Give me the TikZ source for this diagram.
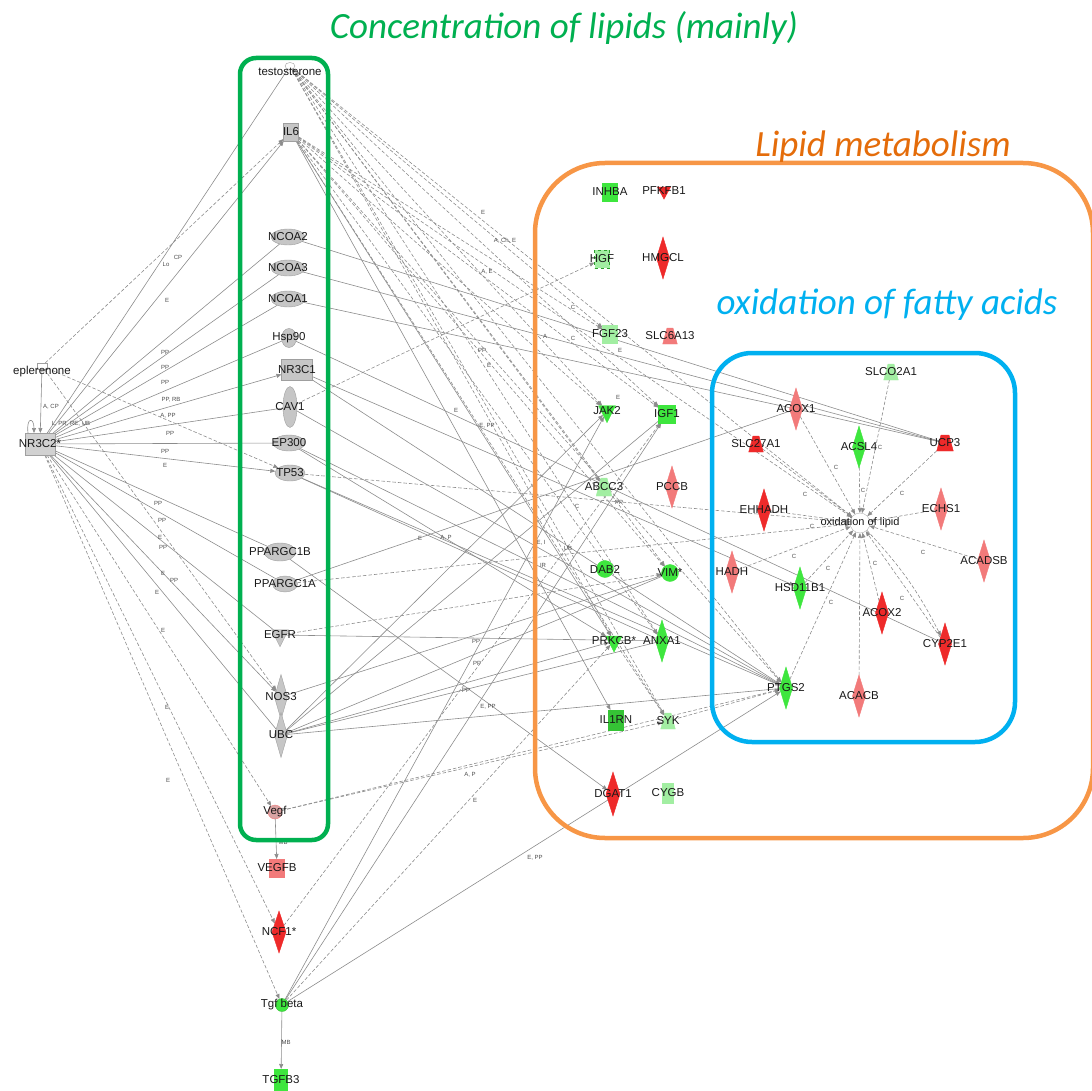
\documentclass[tikz,border=0pt]{standalone}
\usepackage{fontspec}
\setmainfont{Liberation Sans}
\newfontfamily\titlefont{Carlito}
\usetikzlibrary{arrows.meta, shapes.geometric, backgrounds}

\definecolor{ngrey}{HTML}{C6C6C6}
\definecolor{nred}{HTML}{EE2A2A}
\definecolor{npink}{HTML}{F27A7A}
\definecolor{ngreen}{HTML}{3EE63E}
\definecolor{nlgreen}{HTML}{A2EEA2}
\definecolor{egrey}{HTML}{8C8C8C}
\definecolor{boxgreen}{HTML}{00B050}
\definecolor{boxorange}{HTML}{F79646}
\definecolor{boxblue}{HTML}{00B0F0}
\definecolor{titorange}{HTML}{E46C0A}

\begin{document}
\begin{tikzpicture}[x=1pt, y=-1pt,
    >={Triangle[length=5pt, width=4pt]},
    gene/.style  = {draw=gray!75, line width=0.4pt, inner sep=0pt, outer sep=0pt},
    lab/.style   = {font=\fontsize{11.5}{12}\selectfont, inner sep=0pt, text=black!90},
    sq/.style    = {gene, rectangle, minimum width=15, minimum height=18},
    ell/.style   = {gene, ellipse, minimum width=34, minimum height=16},
    dia/.style   = {gene, diamond, minimum width=13, minimum height=42},
    tri/.style   = {gene, isosceles triangle, shape border rotate=270,
                    isosceles triangle stretches, minimum width=15, minimum height=15},
    trap/.style  = {gene, trapezium, inner xsep=3pt, inner ysep=8pt, trapezium left angle=75,
                    trapezium right angle=75, minimum width=0pt, minimum height=0pt},
    blob/.style  = {gene, circle, minimum size=15},
    link/.style  = {draw=egrey, line width=0.6pt},
    dlink/.style = {link, dash pattern=on 3.5pt off 2pt},
    elab/.style  = {font=\fontsize{6}{6}\selectfont, text=black!70, inner sep=0.5pt},
    groupbox/.style   = {line width=4.5pt, rounded corners=#1},
    grouptitle/.style = {font=\titlefont\itshape\fontsize{37}{38}\selectfont, inner sep=0pt}
]
\useasboundingbox (0,0) rectangle (1092,1091);

% left: drug and receptor
\node[gene, rectangle, minimum width=10, minimum height=6, label={[lab, yshift=-6pt]center:eplerenone}] (eplerenone) at (42,366) {};
\node[sq, fill=ngrey!80, minimum width=30, minimum height=22, label={[lab]center:NR3C2*}] (nr3c2) at (40,444) {};

% green column
\node[gene, ellipse, minimum width=10, minimum height=7, label={[lab, yshift=-6pt]center:testosterone}] (testo) at (290,66) {};
\node[sq, fill=ngrey, label={[lab]center:IL6}] (il6) at (291,132) {};
\node[ell, fill=ngrey, label={[lab]center:NCOA2}] (ncoa2) at (288,237) {};
\node[ell, fill=ngrey, label={[lab]center:NCOA3}] (ncoa3) at (288,268) {};
\node[ell, fill=ngrey, label={[lab]center:NCOA1}] (ncoa1) at (288,299) {};
\node[ell, fill=ngrey, minimum width=15, minimum height=19, label={[lab]center:Hsp90}] (hsp90) at (289,338) {};
\node[sq, fill=ngrey, minimum width=31, minimum height=21, label={[lab]center:NR3C1}] (nr3c1) at (297,370) {};
\node[ell, fill=ngrey, minimum width=14, minimum height=41, label={[lab]center:CAV1}] (cav1) at (290,407) {};
\node[ell, fill=ngrey, minimum width=32, label={[lab]center:EP300}] (ep300) at (289,443) {};
\node[ell, fill=ngrey, minimum width=30, label={[lab]center:TP53}] (tp53) at (290,473) {};
\node[ell, fill=ngrey, minimum width=32, minimum height=18, label={[lab]center:PPARGC1B}] (ppargc1b) at (280,552) {};
\node[ell, fill=ngrey, minimum width=25, label={[lab]center:PPARGC1A}] (ppargc1a) at (285,584) {};
\node[tri, fill=ngrey, minimum width=17, minimum height=17, label={[lab]center:EGFR}] (egfr) at (280,635) {};
\node[dia, fill=ngrey, minimum height=45, label={[lab]center:NOS3}] (nos3) at (281,697) {};
\node[dia, fill=ngrey, minimum height=45, label={[lab]center:UBC}] (ubc) at (281,735) {};
\node[blob, fill=npink!45!ngrey, draw=npink, minimum size=14, label={[lab]center:Vegf}] (vegf) at (275,812) {};

% below the green column
\node[sq, fill=npink, draw=npink, label={[lab]center:VEGFB}] (vegfb) at (277,868) {};
\node[dia, fill=nred, draw=nred, minimum width=14, label={[lab]center:NCF1*}] (ncf1) at (279,932) {};
\node[blob, fill=ngreen, draw=ngreen!80!black, minimum size=13, label={[lab]center:Tgf beta}] (tgfbeta) at (282,1005) {};
\node[sq, fill=ngreen, draw=ngreen, minimum width=13, minimum height=22, label={[lab]center:TGFB3}] (tgfb3) at (281,1080) {};

% lipid metabolism
\node[sq, fill=ngreen, draw=ngreen, label={[lab]center:INHBA}] (inhba) at (610,192) {};
\node[tri, fill=nred, draw=nred, minimum width=13, minimum height=12, label={[lab]center:PFKFB1}] (pfkfb1) at (664,191) {};
\node[sq, fill=nlgreen, draw=ngreen!70!black, dashed, label={[lab]center:HGF}] (hgf) at (602,259) {};
\node[dia, fill=nred, draw=nred, label={[lab]center:HMGCL}] (hmgcl) at (663,258) {};
\node[sq, fill=nlgreen, draw=nlgreen, label={[lab]center:FGF23}] (fgf23) at (610,334) {};
\node[trap, fill=npink, draw=npink, label={[lab]center:SLC6A13}] (slc6a13) at (670,336) {};
\node[tri, fill=ngreen, draw=ngreen, minimum width=17, minimum height=17, label={[lab]center:JAK2}] (jak2) at (607,411) {};
\node[sq, fill=ngreen, draw=ngreen, minimum width=17, label={[lab]center:IGF1}] (igf1) at (667,414) {};
\node[trap, fill=nlgreen, draw=nlgreen, inner ysep=9pt, label={[lab]center:ABCC3}] (abcc3) at (604,487) {};
\node[dia, fill=npink, draw=npink, label={[lab]center:PCCB}] (pccb) at (672,487) {};
\node[blob, fill=ngreen, draw=ngreen, minimum size=17, label={[lab]center:DAB2}] (dab2) at (605,569) {};
\node[blob, fill=ngreen, draw=ngreen, minimum size=17, label={[lab]center:VIM*}] (vim) at (670,573) {};
\node[tri, fill=ngreen, draw=ngreen, minimum width=16, minimum height=16, label={[lab]center:PRKCB*}] (prkcb) at (614,641) {};
\node[dia, fill=ngreen, draw=ngreen, label={[lab]center:ANXA1}] (anxa1) at (662,641) {};
\node[sq, fill=ngreen!85!black, draw=ngreen!85!black, minimum height=20, label={[lab]center:IL1RN}] (il1rn) at (616,720) {};
\node[trap, fill=nlgreen, draw=nlgreen, label={[lab]center:SYK}] (syk) at (668,721) {};
\node[dia, fill=nred, draw=nred, minimum width=14, minimum height=44, label={[lab]center:DGAT1}] (dgat1) at (613,794) {};
\node[sq, fill=nlgreen, draw=nlgreen, minimum width=11, minimum height=20, label={[lab]center:CYGB}] (cygb) at (668,793) {};

% fatty acid oxidation
\node[trap, fill=nlgreen, draw=nlgreen, label={[lab]center:SLCO2A1}] (slco2a1) at (891,372) {};
\node[dia, fill=npink, draw=npink, label={[lab]center:ACOX1}] (acox1) at (796,409) {};
\node[trap, fill=nred, draw=nred, label={[lab]center:SLC27A1}] (slc27a1) at (756,444) {};
\node[dia, fill=ngreen, draw=ngreen, label={[lab]center:ACSL4}] (acsl4) at (859,447) {};
\node[trap, fill=nred, draw=nred, inner xsep=4pt, label={[lab]center:UCP3}] (ucp3) at (945,443) {};
\node[dia, fill=nred, draw=nred, label={[lab]center:EHHADH}] (ehhadh) at (764,510) {};
\node[dia, fill=npink, draw=npink, label={[lab]center:ECHS1}] (echs1) at (941,509) {};
\node[blob, fill=white, draw=gray!60, minimum size=20, label={[lab, font=\fontsize{11}{12}\selectfont]center:oxidation of lipid}] (oxi) at (860,523) {};
\node[dia, fill=npink, draw=npink, label={[lab]center:HADH}] (hadh) at (732,572) {};
\node[dia, fill=ngreen, draw=ngreen, label={[lab]center:HSD11B1}] (hsd11b1) at (800,588) {};
\node[dia, fill=npink, draw=npink, label={[lab]center:ACADSB}] (acadsb) at (984,561) {};
\node[dia, fill=nred, draw=nred, label={[lab]center:ACOX2}] (acox2) at (882,613) {};
\node[dia, fill=nred, draw=nred, label={[lab]center:CYP2E1}] (cyp2e1) at (945,644) {};
\node[dia, fill=ngreen, draw=ngreen, label={[lab]center:PTGS2}] (ptgs2) at (786,688) {};
\node[dia, fill=npink, draw=npink, label={[lab]center:ACACB}] (acacb) at (859,696) {};

\begin{pgfonlayer}{background}
% plain links
\foreach \a/\b in {nr3c2/testo, nr3c2/ncoa2, nr3c2/ncoa3, nr3c2/ncoa1, nr3c2/hsp90,
                   nr3c2/cav1, nr3c2/ep300, nr3c2/ppargc1b, nr3c2/ppargc1a, nr3c2/egfr,
                   nr3c2/ubc, ncoa2/ucp3, ncoa3/ucp3, ncoa1/acox1, ppargc1a/acox1,
                   egfr/anxa1, nos3/vim, ubc/vim, ubc/anxa1, ubc/ptgs2, ubc/igf1,
                   tp53/anxa1, acox1/ucp3, hsp90/cyp2e1}
    \draw[link] (\a) -- (\b);
% directed links
\foreach \a/\b in {eplerenone/nr3c2, nr3c2/il6, nr3c2/nr3c1, nr3c2/tp53, nr3c2/nos3,
                   vegf/vegfb, tgfbeta/tgfb3, nr3c1/hsd11b1, il6/il1rn, il6/prkcb,
                   ppargc1b/dgat1, tgfbeta/igf1, tgfbeta/jak2, tgfbeta/ptgs2,
                   ubc/prkcb, ep300/prkcb, cav1/ptgs2, ep300/ptgs2, tp53/ptgs2,
                   nr3c1/ptgs2, ubc/jak2}
    \draw[link, ->] (\a) -- (\b);
\draw[link, ->] ([xshift=-12pt]nr3c2.north) .. controls +(-2,-16) and +(0,-16) .. ([xshift=-6pt]nr3c2.north);
% indirect links
\foreach \a/\b in {nr3c2/vegf, nr3c2/ncf1, nr3c2/tgfbeta, eplerenone/il6, eplerenone/tp53,
                   eplerenone/nos3, testo/fgf23, testo/jak2, testo/igf1, testo/abcc3,
                   testo/vim, testo/prkcb, testo/syk, testo/ptgs2, testo/oxi, testo/anxa1,
                   il6/fgf23, il6/jak2, il6/igf1, il6/vim, il6/anxa1, il6/ptgs2, il6/syk,
                   il6/oxi, cav1/hgf, tp53/oxi, ppargc1a/oxi, egfr/vim, vegf/ptgs2,
                   vegf/syk, tgfbeta/prkcb, ncf1/igf1, prkcb/syk, syk/ptgs2}
    \draw[dlink, ->] (\a) -- (\b);
\foreach \a in {slco2a1, acox1, slc27a1, acsl4, ucp3, ehhadh, echs1, hadh, hsd11b1,
                acadsb, acox2, cyp2e1, ptgs2, acacb}
    \draw[dlink, ->] (\a) -- (oxi);
\draw[dlink, ->] (oxi) to[bend left=8] (cyp2e1);
\end{pgfonlayer}

% link labels
\foreach \t/\x/\y in {Lo/166/264, CP/178/257, E/167/300, PP/165/352, PP/165/367,
                      PP/165/382, {PP, RB}/171/400, {A, PP}/168/416, PP/170/433,
                      PP/165/451, E/165/465, PP/158/503, PP/162/520, E/160/537,
                      PP/163/547, E/163/573, PP/174/580, E/157/592, E/163/630,
                      E/167/707, E/168/780, {A, CP}/51/407, {L, PR, RE, UB}/71/424,
                      MB/283/842, MB/286/1042, E/483/212, {A, Ch, E}/505/241,
                      {A, E}/487/272, A/545/336, C/573/307, C/573/338, E/620/350,
                      PP/482/350, E/489/365, E/456/410, {E, PP}/487/426, E/420/538,
                      {A, P}/446/538, {E, I}/541/543, UB/568/548, IR/543/565,
                      C/577/506, PP/619/502, E/618/397, PP/476/641, PP/477/663,
                      PP/466/690, {E, PP}/488/707, {A, P}/470/775, E/475/800,
                      {E, PP}/535/858}
    \node[elab] at (\x,\y) {\t};
\foreach \x/\y in {880/447, 836/467, 863/490, 805/494, 902/493, 812/526, 794/556,
                   828/568, 875/563, 923/552, 902/598, 831/602}
    \node[elab] at (\x,\y) {C};

% group frames
\draw[groupbox=16pt, draw=boxgreen] (240,58) rectangle (328,840);
\draw[groupbox=70pt, draw=boxorange] (535,163) rectangle (1093,838);
\draw[groupbox=40pt, draw=boxblue] (712,353) rectangle (1015,742);

\node[grouptitle, text=boxgreen] (titlelipids) at (564,28) {Concentration of lipids (mainly)};
\node[grouptitle, text=titorange] (titlemetab) at (883,147) {Lipid metabolism};
\node[grouptitle, text=boxblue] (titleoxid) at (887,305) {oxidation of fatty acids};

\end{tikzpicture}
\end{document}
